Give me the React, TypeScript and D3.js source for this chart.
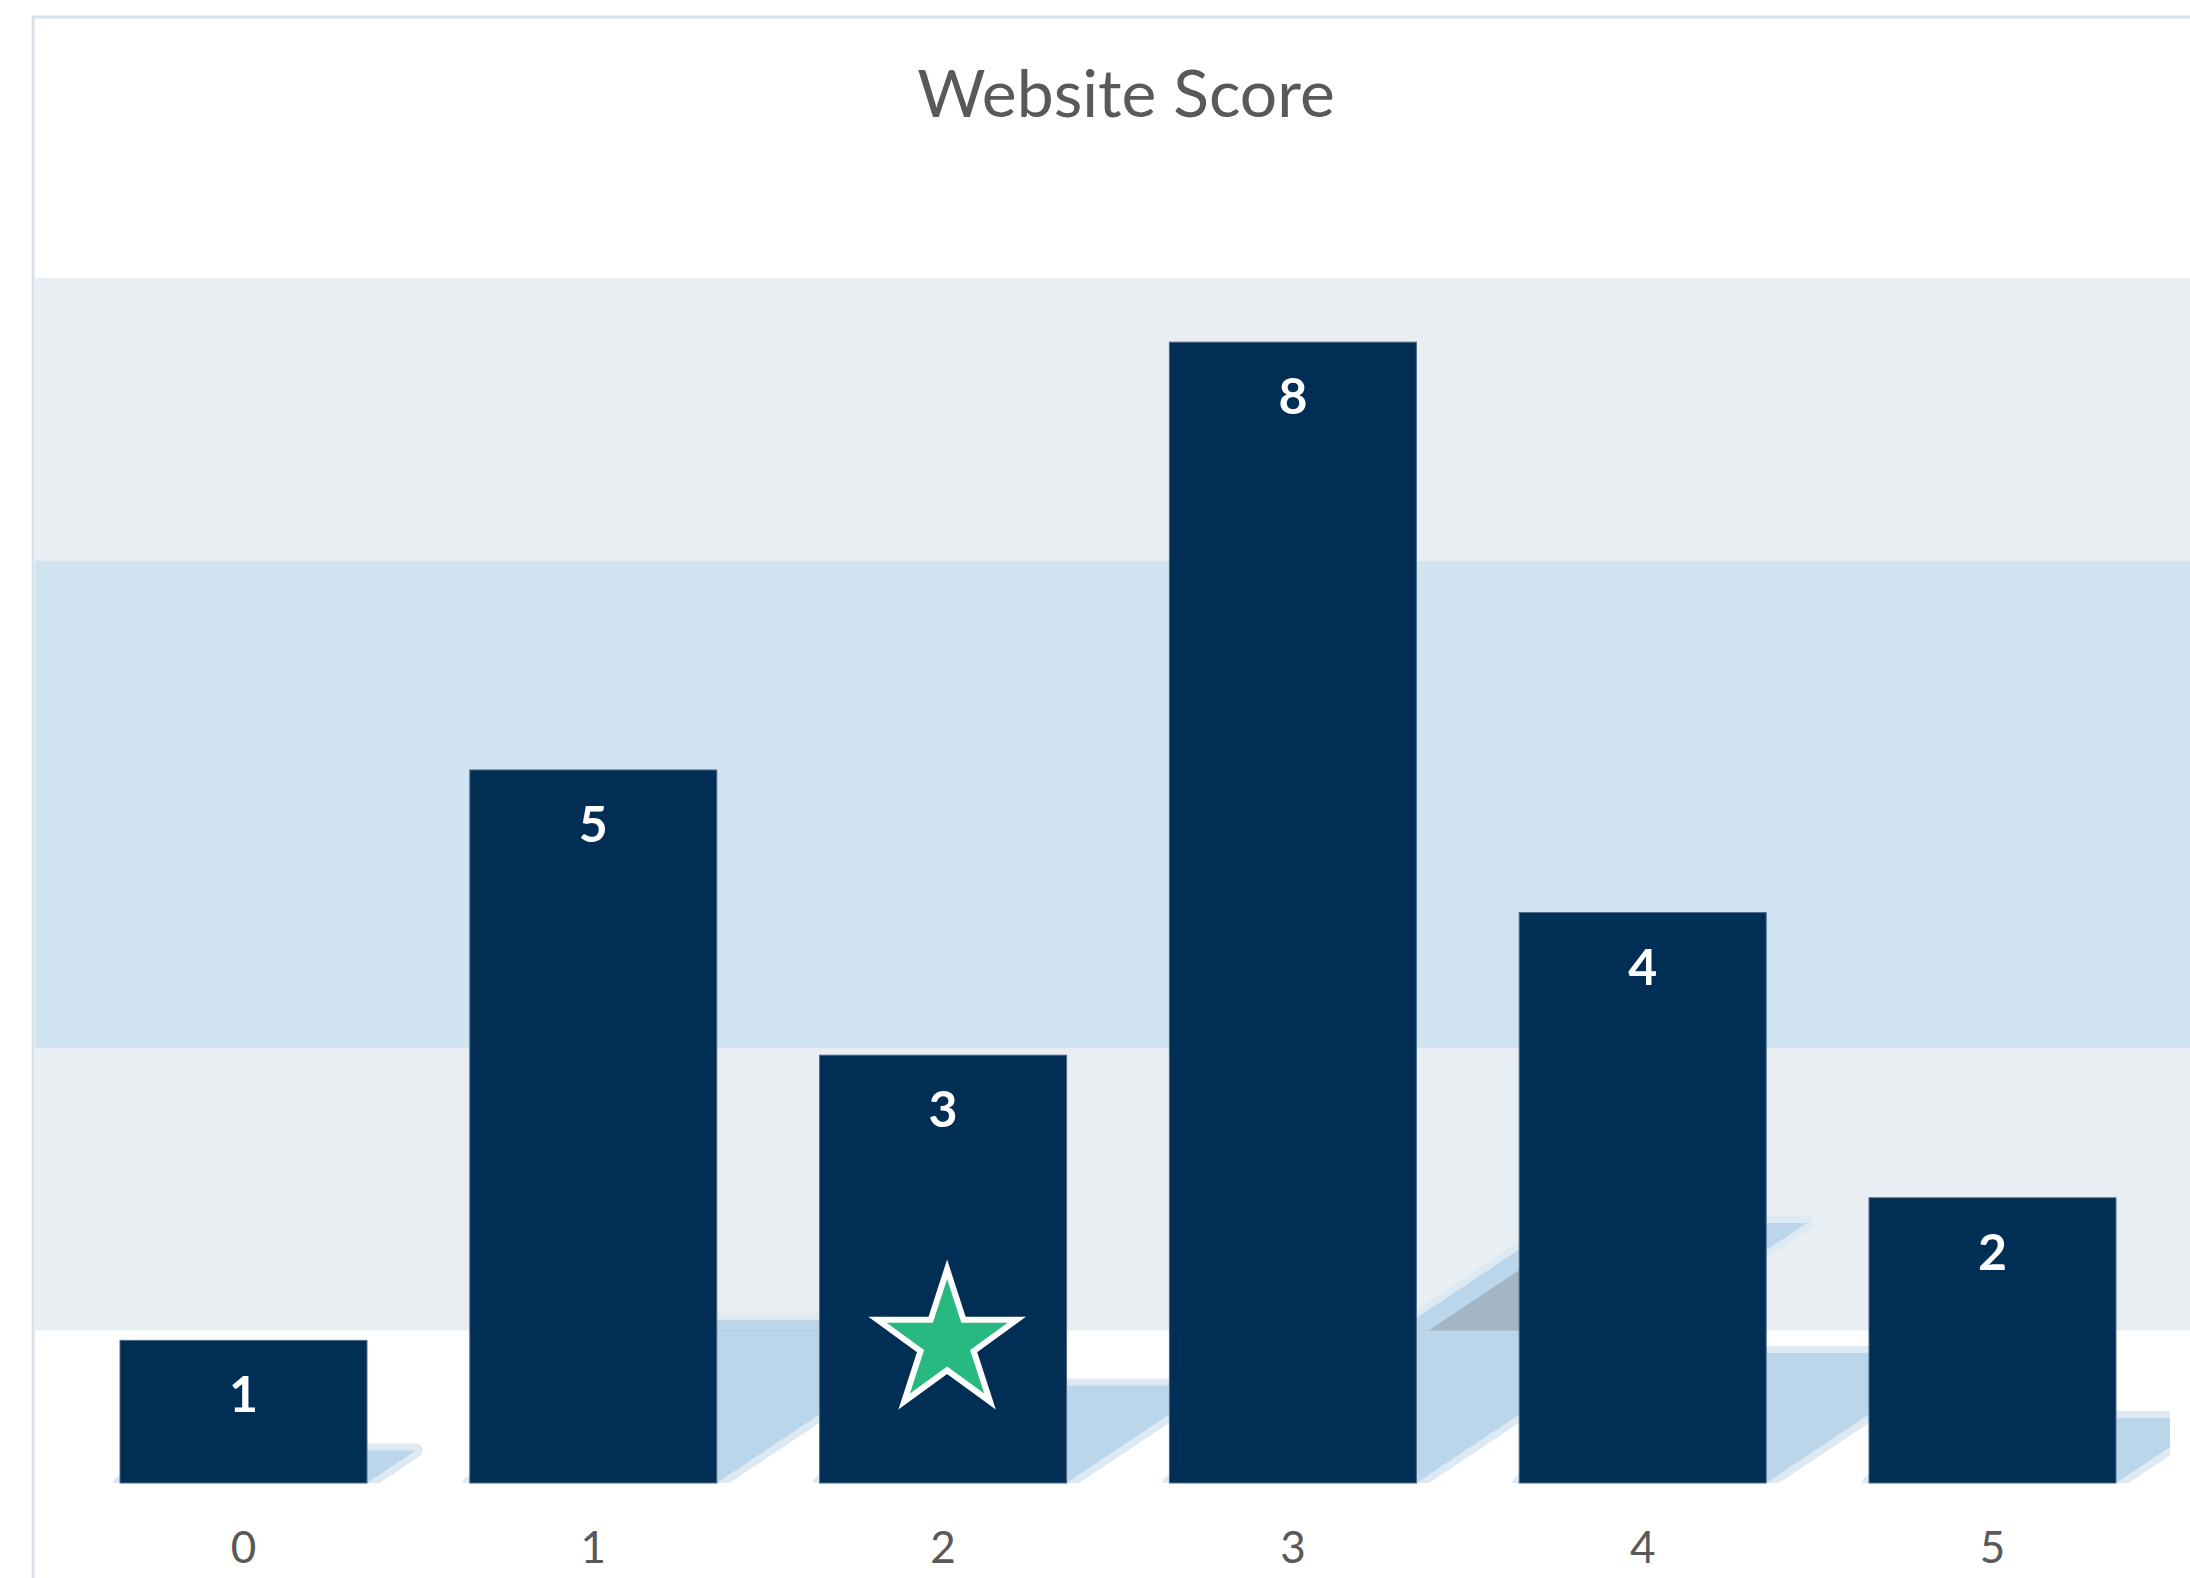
import { useEffect, useRef } from 'react';
import * as d3 from 'd3';

// score buckets and how many sites got each score
const scores = ['0', '1', '2', '3', '4', '5'];
const counts = [1, 5, 3, 8, 4, 2];

// background bands (in count units)
const bandLow = [1.07, 3.05, 6.47];
const bandHigh = [3.05, 6.47, 8.45];

// the highlighted score
const starScore = '2';
const starCount = 1;

const title = 'Website Score';

const W = 2190;
const H = 1578;

export default function App() {
  const ref = useRef<SVGSVGElement>(null);

  useEffect(() => {
    const svg = d3.select(ref.current);
    svg.selectAll('*').remove();

    const font = 'Lato, "Open Sans", sans-serif';
    const plotLeft = 35;
    const plotRight = 2170;

    const x = d3
      .scaleBand()
      .domain(scores)
      .range([68.6, 2167.4])
      .paddingInner(0.294)
      .paddingOuter(0.147);

    const y = d3.scaleLinear().domain([0, 8.45]).range([1483, 278]);

    const defs = svg.append('defs');

    // chart frame
    svg
      .append('path')
      .attr('d', `M33,${H} V17 H${W}`)
      .attr('fill', 'none')
      .attr('stroke', '#D5E2EC')
      .attr('stroke-width', 3);

    // title
    svg
      .append('text')
      .attr('x', 1126)
      .attr('y', 117)
      .attr('text-anchor', 'middle')
      .attr('font-family', font)
      .attr('font-size', 66)
      .attr('fill', '#595959')
      .text(title);

    // bands
    const bandColor = ['#E8EEF2', '#D0E3F0', '#E8EEF2'];
    bandLow.forEach((lo, i) => {
      svg
        .append('rect')
        .attr('x', plotLeft)
        .attr('width', W - plotLeft)
        .attr('y', y(bandHigh[i]))
        .attr('height', y(lo) - y(bandHigh[i]))
        .attr('fill', bandColor[i]);
    });

    defs
      .append('clipPath')
      .attr('id', 'plot-clip')
      .append('rect')
      .attr('x', plotLeft)
      .attr('y', y(8.45))
      .attr('width', plotRight - plotLeft)
      .attr('height', y(0) - y(8.45));

    const grayClip = defs.append('clipPath').attr('id', 'gray-clip');
    bandLow.forEach((lo, i) => {
      if (i === 1) return;
      grayClip
        .append('rect')
        .attr('x', plotLeft)
        .attr('width', W - plotLeft)
        .attr('y', y(bandHigh[i]))
        .attr('height', y(lo) - y(bandHigh[i]));
    });

    // perspective shadows behind the bars
    const shadowD = scores.map((s, i) => {
      const x0 = x(s)!;
      const x1 = x0 + x.bandwidth();
      const base = y(0);
      const sh = (y(0) - y(counts[i])) * 0.228;
      const dx = sh * 1.5;
      const pts: [number, number][] = [
        [x0, base],
        [x1, base],
        [x1 + dx, base - sh],
        [x0 + dx, base - sh],
      ];
      return d3.line()(pts) + 'Z';
    });

    const shadows = svg.append('g').attr('clip-path', 'url(#plot-clip)');
    shadowD.forEach((d) => {
      shadows
        .append('path')
        .attr('d', d)
        .attr('fill', 'none')
        .attr('stroke', '#DDE9F3')
        .attr('stroke-width', 14)
        .attr('stroke-linejoin', 'round');
    });
    shadowD.forEach((d) => {
      shadows.append('path').attr('d', d).attr('fill', '#BBD6EA');
    });
    shadowD.forEach((d, i) => {
      defs.append('clipPath').attr('id', `shadow-${i}`).append('path').attr('d', d);
      shadows
        .append('g')
        .attr('clip-path', 'url(#gray-clip)')
        .append('g')
        .attr('clip-path', `url(#shadow-${i})`)
        .append('path')
        .attr('d', d)
        .attr('fill', '#A3B4C2')
        .attr('stroke', '#BBD6EA')
        .attr('stroke-width', 34)
        .attr('stroke-linejoin', 'round');
    });

    // bars
    svg
      .append('g')
      .selectAll('rect')
      .data(counts)
      .join('rect')
      .attr('x', (_, i) => x(scores[i])!)
      .attr('y', (d) => y(d))
      .attr('width', x.bandwidth())
      .attr('height', (d) => y(0) - y(d))
      .attr('fill', '#012E55')
      .attr('stroke', '#4C6884')
      .attr('stroke-width', 1);

    // value labels
    svg
      .append('g')
      .selectAll('text')
      .data(counts)
      .join('text')
      .attr('x', (_, i) => x(scores[i])! + x.bandwidth() / 2)
      .attr('y', (d) => y(d) + 72)
      .attr('text-anchor', 'middle')
      .attr('font-family', font)
      .attr('font-weight', 700)
      .attr('font-size', 50)
      .attr('fill', '#FFFFFF')
      .text((d) => d);

    // star marker
    svg
      .append('path')
      .attr('d', d3.symbol(d3.symbolStar, 6000)())
      .attr(
        'transform',
        `translate(${x(starScore)! + x.bandwidth() / 2 + 4},${y(starCount) + 2})`
      )
      .attr('fill', '#27B981')
      .attr('stroke', '#FFFFFF')
      .attr('stroke-width', 6)
      .attr('stroke-linejoin', 'miter');

    // x axis
    const axis = svg
      .append('g')
      .attr('transform', `translate(0,${y(0)})`)
      .call(d3.axisBottom(x).tickSize(0).tickPadding(49));
    axis.select('.domain').remove();
    axis
      .attr('font-family', font)
      .attr('font-size', 44)
      .selectAll('text')
      .attr('fill', '#595959');
  }, []);

  return (
    <svg
      ref={ref}
      width={W}
      height={H}
      style={{ position: 'absolute', left: 0, top: 0, background: '#FFFFFF' }}
    />
  );
}
